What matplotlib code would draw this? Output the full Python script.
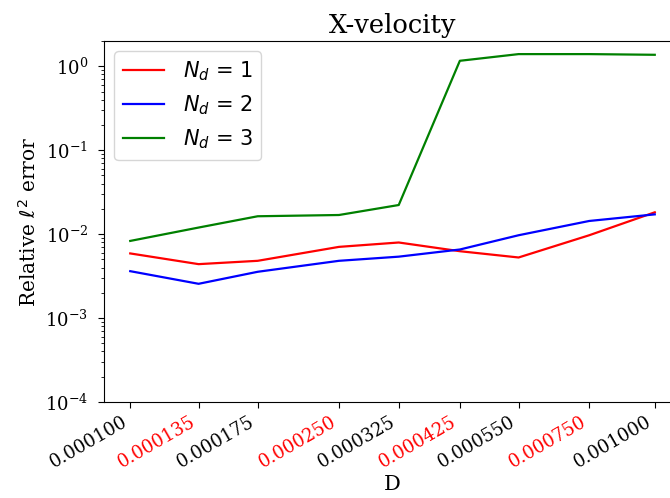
import matplotlib
matplotlib.use("Agg")
import matplotlib.pyplot as plt
from matplotlib.ticker import NullLocator, FixedLocator, FixedFormatter

plt.rcParams['font.family'] = 'serif'
plt.rcParams['font.serif'] = ['DejaVu Serif']
plt.rcParams['mathtext.fontset'] = 'dejavusans'

# Diffusion coefficient values
D = [0.000100, 0.000135, 0.000175, 0.000250, 0.000325,
     0.000425, 0.000550, 0.000750, 0.001000]
tick_labels = ["0.000100", "0.000135", "0.000175", "0.000250", "0.000325",
               "0.000425", "0.000550", "0.000750", "0.001000"]

# Relative l2 error of the x-velocity for each number of subdomains
err_nd1 = [0.00589, 0.00439, 0.00481, 0.00705, 0.00795,
           0.00626, 0.00527, 0.00970, 0.0182]
err_nd2 = [0.00362, 0.00256, 0.00356, 0.00481, 0.00539,
           0.00656, 0.00970, 0.01435, 0.0172]
err_nd3 = [0.00830, 0.01198, 0.01633, 0.01690, 0.02223,
           1.162, 1.396, 1.396, 1.370]

fig = plt.figure(figsize=(6.7, 4.98), dpi=100)
ax = fig.add_axes([104 / 670, 96 / 498, 577 / 670, 361 / 498])

ax.plot(D, err_nd1, color='red', lw=1.6, label=r'$N_d$ = 1')
ax.plot(D, err_nd2, color='blue', lw=1.6, label=r'$N_d$ = 2')
ax.plot(D, err_nd3, color='green', lw=1.6, label=r'$N_d$ = 3')

ax.set_xscale('log')
ax.set_yscale('log')
ax.set_ylim(1e-4, 2)

ax.xaxis.set_major_locator(FixedLocator(D))
ax.xaxis.set_major_formatter(FixedFormatter(tick_labels))
ax.xaxis.set_minor_locator(NullLocator())
for i, lbl in enumerate(ax.get_xticklabels()):
    lbl.set_rotation(30)
    lbl.set_ha('right')
    lbl.set_fontsize(13)
    lbl.set_color('red' if i % 2 == 1 else 'black')
ax.tick_params(axis='both', which='major', length=4.5)
ax.tick_params(axis='y', which='minor', length=2.5)
ax.tick_params(axis='y', labelsize=13, pad=7)

ax.set_title('X-velocity', fontsize=18.5)
ax.set_xlabel('D', fontsize=15, labelpad=2)
ax.set_ylabel(r'Relative $\ell^2$ error', fontsize=14.5, labelpad=4)

ax.legend(loc='upper left', prop={'family': 'DejaVu Sans', 'size': 15},
          handlelength=2.0, handletextpad=0.9)

fig.savefig('out.png', dpi=100)
